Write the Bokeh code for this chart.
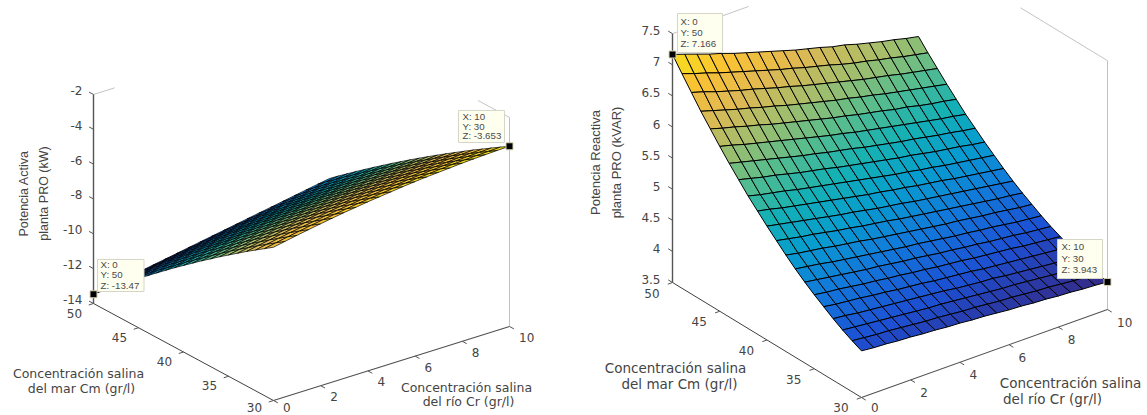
import numpy as np
from bokeh.plotting import figure
from bokeh.models import Range1d, ColumnDataSource
from bokeh.core.properties import value
from bokeh.embed import file_html
from bokeh.resources import INLINE

# ---- data ----
river_salinity = [0, .5, 1, 1.5, 2, 2.5, 3, 3.5, 4, 4.5, 5, 5.5, 6, 6.5, 7, 7.5, 8, 8.5, 9, 9.5, 10]
sea_salinity = [30, 31, 32, 33, 34, 35, 36, 37, 38, 39, 40, 41, 42, 43, 44, 45, 46, 47, 48, 49, 50]

# rows: sea_salinity, columns: river_salinity
active_power = [
 [-5.20,-5.07,-4.94,-4.82,-4.70,-4.59,-4.48,-4.39,-4.29,-4.21,-4.13,-4.05,-3.98,-3.92,-3.87,-3.82,-3.77,-3.73,-3.70,-3.67,-3.653],
 [-5.56,-5.43,-5.30,-5.18,-5.06,-4.95,-4.85,-4.75,-4.65,-4.57,-4.49,-4.41,-4.34,-4.27,-4.22,-4.16,-4.11,-4.07,-4.04,-4.01,-3.98],
 [-5.92,-5.79,-5.66,-5.54,-5.43,-5.32,-5.21,-5.11,-5.02,-4.93,-4.85,-4.77,-4.70,-4.63,-4.57,-4.51,-4.46,-4.41,-4.37,-4.34,-4.31],
 [-6.28,-6.15,-6.03,-5.91,-5.79,-5.68,-5.58,-5.48,-5.38,-5.30,-5.21,-5.13,-5.06,-4.99,-4.93,-4.87,-4.81,-4.77,-4.72,-4.68,-4.65],
 [-6.66,-6.53,-6.41,-6.29,-6.17,-6.06,-5.95,-5.85,-5.76,-5.67,-5.58,-5.50,-5.42,-5.35,-5.28,-5.22,-5.16,-5.11,-5.06,-5.02,-4.98],
 [-7.04,-6.91,-6.79,-6.67,-6.55,-6.44,-6.34,-6.24,-6.14,-6.05,-5.96,-5.88,-5.80,-5.72,-5.65,-5.59,-5.53,-5.47,-5.42,-5.37,-5.33],
 [-7.42,-7.29,-7.17,-7.05,-6.94,-6.83,-6.72,-6.62,-6.52,-6.43,-6.34,-6.26,-6.17,-6.10,-6.03,-5.96,-5.89,-5.83,-5.78,-5.73,-5.68],
 [-7.82,-7.69,-7.57,-7.45,-7.34,-7.23,-7.12,-7.02,-6.92,-6.82,-6.73,-6.64,-6.56,-6.48,-6.40,-6.33,-6.26,-6.20,-6.14,-6.08,-6.03],
 [-8.21,-8.09,-7.96,-7.85,-7.73,-7.62,-7.51,-7.41,-7.31,-7.21,-7.12,-7.03,-6.94,-6.86,-6.79,-6.71,-6.64,-6.57,-6.51,-6.45,-6.39],
 [-8.62,-8.50,-8.37,-8.26,-8.14,-8.03,-7.92,-7.82,-7.71,-7.62,-7.52,-7.43,-7.34,-7.26,-7.17,-7.09,-7.02,-6.95,-6.88,-6.81,-6.75],
 [-9.03,-8.91,-8.79,-8.67,-8.55,-8.44,-8.33,-8.23,-8.12,-8.02,-7.93,-7.83,-7.74,-7.65,-7.57,-7.49,-7.41,-7.33,-7.26,-7.19,-7.12],
 [-9.44,-9.32,-9.20,-9.08,-8.96,-8.85,-8.74,-8.64,-8.53,-8.43,-8.33,-8.23,-8.14,-8.05,-7.96,-7.88,-7.79,-7.71,-7.64,-7.56,-7.49],
 [-9.87,-9.75,-9.63,-9.51,-9.39,-9.28,-9.17,-9.06,-8.96,-8.85,-8.75,-8.65,-8.56,-8.46,-8.37,-8.28,-8.19,-8.11,-8.03,-7.95,-7.87],
 [-10.30,-10.18,-10.06,-9.94,-9.82,-9.71,-9.60,-9.49,-9.38,-9.27,-9.17,-9.07,-8.97,-8.87,-8.78,-8.68,-8.59,-8.50,-8.42,-8.33,-8.25],
 [-10.73,-10.61,-10.49,-10.37,-10.25,-10.14,-10.03,-9.92,-9.81,-9.70,-9.60,-9.49,-9.39,-9.29,-9.19,-9.10,-9.00,-8.91,-8.82,-8.73,-8.64],
 [-11.17,-11.05,-10.93,-10.81,-10.69,-10.58,-10.47,-10.35,-10.24,-10.13,-10.03,-9.92,-9.82,-9.71,-9.61,-9.51,-9.41,-9.31,-9.22,-9.12,-9.03],
 [-11.62,-11.50,-11.38,-11.26,-11.14,-11.03,-10.91,-10.80,-10.69,-10.58,-10.47,-10.36,-10.25,-10.15,-10.04,-9.93,-9.83,-9.73,-9.63,-9.53,-9.43],
 [-12.07,-11.95,-11.83,-11.71,-11.59,-11.48,-11.36,-11.25,-11.13,-11.02,-10.91,-10.79,-10.68,-10.57,-10.46,-10.36,-10.25,-10.14,-10.04,-9.93,-9.83],
 [-12.53,-12.41,-12.29,-12.17,-12.05,-11.94,-11.82,-11.70,-11.59,-11.47,-11.36,-11.24,-11.13,-11.02,-10.90,-10.79,-10.68,-10.57,-10.46,-10.35,-10.24],
 [-13.00,-12.88,-12.76,-12.64,-12.52,-12.40,-12.28,-12.16,-12.05,-11.93,-11.81,-11.69,-11.58,-11.46,-11.34,-11.23,-11.11,-10.99,-10.88,-10.76,-10.65],
 [-13.47,-13.35,-13.23,-13.11,-12.99,-12.87,-12.75,-12.63,-12.51,-12.39,-12.27,-12.15,-12.03,-11.91,-11.79,-11.67,-11.55,-11.43,-11.31,-11.19,-11.07],
]
reactive_power = [
 [4.25,4.23,4.22,4.20,4.19,4.17,4.16,4.14,4.13,4.11,4.10,4.08,4.06,4.05,4.03,4.02,4.00,3.99,3.97,3.96,3.943],
 [4.32,4.30,4.28,4.27,4.25,4.23,4.21,4.20,4.18,4.16,4.15,4.13,4.11,4.10,4.08,4.06,4.05,4.03,4.01,4.00,3.98],
 [4.40,4.38,4.36,4.34,4.32,4.30,4.28,4.26,4.25,4.23,4.21,4.19,4.17,4.15,4.14,4.12,4.10,4.08,4.06,4.05,4.03],
 [4.49,4.47,4.44,4.42,4.40,4.38,4.36,4.34,4.32,4.30,4.27,4.25,4.23,4.22,4.19,4.17,4.15,4.13,4.11,4.10,4.08],
 [4.59,4.56,4.54,4.52,4.49,4.47,4.44,4.42,4.40,4.37,4.35,4.33,4.31,4.28,4.26,4.24,4.22,4.20,4.18,4.16,4.14],
 [4.69,4.66,4.64,4.61,4.58,4.56,4.53,4.51,4.48,4.46,4.43,4.41,4.39,4.36,4.34,4.32,4.30,4.27,4.25,4.23,4.21],
 [4.80,4.77,4.74,4.71,4.68,4.65,4.63,4.60,4.57,4.55,4.52,4.49,4.47,4.44,4.42,4.39,4.37,4.35,4.32,4.30,4.28],
 [4.92,4.89,4.86,4.82,4.79,4.76,4.73,4.70,4.67,4.64,4.62,4.59,4.56,4.53,4.51,4.48,4.46,4.43,4.40,4.38,4.36],
 [5.05,5.01,4.98,4.95,4.91,4.88,4.85,4.81,4.78,4.75,4.72,4.69,4.66,4.63,4.61,4.58,4.55,4.53,4.50,4.47,4.45],
 [5.19,5.15,5.11,5.08,5.04,5.00,4.97,4.93,4.90,4.87,4.83,4.80,4.77,4.74,4.71,4.68,4.65,4.62,4.59,4.57,4.54],
 [5.33,5.29,5.25,5.21,5.17,5.13,5.09,5.06,5.02,4.98,4.95,4.92,4.88,4.85,4.82,4.79,4.76,4.73,4.70,4.67,4.64],
 [5.48,5.44,5.39,5.35,5.31,5.27,5.23,5.19,5.15,5.11,5.08,5.04,5.01,4.97,4.94,4.91,4.87,4.84,4.81,4.78,4.75],
 [5.63,5.58,5.54,5.50,5.45,5.41,5.37,5.33,5.29,5.25,5.21,5.17,5.13,5.10,5.06,5.03,4.99,4.96,4.93,4.90,4.87],
 [5.80,5.75,5.70,5.66,5.61,5.56,5.52,5.48,5.43,5.39,5.35,5.31,5.27,5.23,5.20,5.16,5.12,5.09,5.06,5.02,4.99],
 [5.97,5.92,5.87,5.82,5.77,5.72,5.67,5.63,5.58,5.54,5.50,5.45,5.41,5.37,5.33,5.30,5.26,5.22,5.19,5.15,5.12],
 [6.15,6.10,6.04,5.99,5.94,5.89,5.84,5.79,5.74,5.69,5.65,5.60,5.56,5.52,5.48,5.44,5.40,5.36,5.32,5.29,5.25],
 [6.34,6.28,6.23,6.17,6.12,6.06,6.01,5.96,5.91,5.86,5.81,5.77,5.72,5.68,5.64,5.59,5.56,5.51,5.47,5.44,5.40],
 [6.53,6.47,6.41,6.35,6.30,6.24,6.19,6.13,6.08,6.03,5.98,5.93,5.89,5.84,5.80,5.75,5.71,5.67,5.63,5.59,5.55],
 [6.74,6.68,6.61,6.55,6.49,6.44,6.38,6.32,6.27,6.21,6.16,6.11,6.06,6.01,5.96,5.92,5.88,5.83,5.79,5.75,5.71],
 [6.95,6.88,6.82,6.75,6.69,6.63,6.57,6.51,6.45,6.40,6.34,6.29,6.24,6.18,6.13,6.09,6.04,6.00,5.95,5.91,5.87],
 [7.166,7.10,7.03,6.96,6.90,6.83,6.77,6.71,6.65,6.59,6.53,6.48,6.43,6.37,6.33,6.27,6.22,6.17,6.13,6.08,6.04],
]
x_ticks = [0, 2, 4, 6, 8, 10]
y_ticks = [30, 35, 40, 45, 50]
z_ticks_active = [-14, -12, -10, -8, -6, -4, -2]
z_ticks_reactive = [3.5, 4, 4.5, 5, 5.5, 6, 6.5, 7, 7.5]
z_tick_labels_reactive = ["3.5", "4", "4.5", "5", "5.5", "6", "6.5", "7", "7.5"]
cursor_active = [(0, 50, "0", "50", "-13.47", -13.47), (10, 30, "10", "30", "-3.653", -3.653)]
cursor_reactive = [(0, 50, "0", "50", "7.166", 7.166), (10, 30, "10", "30", "3.943", 3.943)]

# ---- page coordinates ----
W, H = 1147, 415
p = figure(width=W, height=H, x_range=Range1d(0, W), y_range=Range1d(H, 0),
           x_axis_type=None, y_axis_type=None, toolbar_location=None,
           output_backend="svg", min_border=0, outline_line_color=None)

ANCHORS = np.array([(53,42,135),(28,80,212),(18,120,218),(7,156,207),(21,177,180),
                    (89,189,140),(165,190,107),(225,185,82),(250,195,50),(245,228,25)], float)

def parula(t):
    t = np.clip(t, 0, 1) * (len(ANCHORS) - 1)
    i = min(int(t), len(ANCHORS) - 2)
    c = ANCHORS[i] + (ANCHORS[i + 1] - ANCHORS[i]) * (t - i)
    return "#%02x%02x%02x" % tuple(int(round(v)) for v in c)

TICK = "#555555"
SANS = value("DejaVu Sans")
ARIAL = value("Liberation Sans")
LOWEST_LABEL = 407.0


def panel(Z, zmin, zmax, origin, ex, ey, ez, zticks, zlabels, cursors, boxes, ylbl, xlbl,
          lbl_size, mesh_w, back_x, back_y, off_y, off_x, zlab_off, ztitle_size, ztitles):
    Z = np.array(Z, float)
    X = np.array(river_salinity, float)
    Y = np.array(sea_salinity, float)

    def proj(x, y, z):
        px = origin[0] + x * ex[0] + (y - 30) * ey[0]
        py = origin[1] + x * ex[1] + (y - 30) * ey[1] + (z - zmin) * ez
        return px, py

    # back box lines
    xa, ya = proj(0, 50, zmax); xb, yb = proj(back_x, 50, zmax)
    p.line([xa, xb], [ya, yb], line_color="#c4c4c4", line_width=1)
    xa, ya = proj(10, 30, zmax); xb, yb = proj(10, back_y, zmax)
    p.line([xa, xb], [ya, yb], line_color="#c4c4c4", line_width=1)
    xa, ya = proj(10, 30, zmin); xb, yb = proj(10, 30, zmax)
    p.line([xa, xb], [ya, yb], line_color="#c0c0c0", line_width=1)

    # surface, far rows first
    xs, ys, fill = [], [], []
    for j in range(len(Y) - 2, -1, -1):
        for i in range(len(X) - 1):
            cx, cy = [], []
            for (a, b) in ((i, j), (i + 1, j), (i + 1, j + 1), (i, j + 1)):
                qx, qy = proj(X[a], Y[b], Z[b, a])
                cx.append(float(qx)); cy.append(float(qy))
            xs.append(cx); ys.append(cy)
            m = (Z[j, i] + Z[j, i + 1] + Z[j + 1, i] + Z[j + 1, i + 1]) / 4
            fill.append(parula((m - Z.min()) / (Z.max() - Z.min())))
    p.patches("xs", "ys", source=ColumnDataSource(dict(xs=xs, ys=ys, c=fill)),
              fill_color="c", line_color="#000000", line_width=mesh_w)

    # axes
    for (a, b, col, w) in (((0, 50, zmin), (0, 50, zmax), "#555555", 1.4),
                           ((0, 50, zmin), (0, 30, zmin), "#404040", 1.0),
                           ((0, 30, zmin), (10, 30, zmin), "#505050", 1.1)):
        ax, ay = proj(*a); bx, by = proj(*b)
        p.line([ax, bx], [ay, by], line_color=col, line_width=w)

    nx = np.hypot(*ex); ny = np.hypot(*ey)
    tl = 5.0
    for z, lab in zip(zticks, zlabels):
        ax, ay = proj(0, 50, z)
        p.line([ax, ax + ey[0] / ny * tl], [ay, ay + ey[1] / ny * tl], line_color=TICK, line_width=1)
        p.text([ax + zlab_off[0]], [ay + zlab_off[1]], text=[lab], text_font=SANS, text_font_size="12px",
               text_color="#444444", text_align="right", text_baseline="middle")
    for y in y_ticks:
        ax, ay = proj(0, y, zmin)
        p.line([ax, ax - ex[0] / nx * tl], [ay, ay - ex[1] / nx * tl], line_color=TICK, line_width=1)
        p.text([ax + off_y[0]], [min(ay + off_y[1], LOWEST_LABEL)], text=[str(y)], text_font=SANS,
               text_font_size="12px", text_color="#444444", text_align="center", text_baseline="middle")
    for x in x_ticks:
        ax, ay = proj(x, 30, zmin)
        p.line([ax, ax - ey[0] / ny * tl], [ay, ay - ey[1] / ny * tl], line_color=TICK, line_width=1)
        p.text([ax + off_x[0]], [min(ay + off_x[1], LOWEST_LABEL)], text=[str(x)], text_font=SANS,
               text_font_size="12px", text_color="#444444", text_align="left", text_baseline="middle")

    # titles
    for (tx, ty, t) in ztitles:
        p.text([tx], [ty], text=[t], angle=np.pi / 2, text_font=ARIAL, text_font_size=ztitle_size,
               text_color="#444444", text_align="center", text_baseline="middle")
    for (tx, ty, t) in ylbl + xlbl:
        p.text([tx], [ty], text=[t], text_font=SANS, text_font_size=lbl_size,
               text_color="#444444", text_align="center", text_baseline="middle")

    # data tips
    for (cur, box) in zip(cursors, boxes):
        cx, cy, sx, sy, sz, zv = cur
        l, r, t, b, tx, rows = box
        p.quad(left=[l], right=[r], top=[t], bottom=[b], fill_color="#fffff0",
               line_color="#d6d6c8", line_width=1)
        for ry, s in zip(rows, ("X: " + sx, "Y: " + sy, "Z: " + sz)):
            p.text([tx], [ry], text=[s], text_font=ARIAL, text_font_size="9.7px", text_color="#4a4a4a",
                   text_align="left", text_baseline="middle")
        mx, my = proj(cx, cy, zv)
        p.scatter([mx], [my], marker="square", size=7, fill_color="#000000",
                  line_color="#d8d4b0", line_width=1)


panel(active_power, -14, -2, (273, 400), (23.6, -7.4), (-9.0, -4.85), -17.42,
      z_ticks_active, [str(v) for v in z_ticks_active], cursor_active,
      [(97, 143.5, 259, 291, 100, (264, 274, 284.5)), (458, 504, 110, 142, 462, (116, 125.5, 135))],
      [(78, 373, "Concentración salina"), (81, 388, "del mar Cm (gr/l)")],
      [(466, 387, "Concentración salina"), (468, 401, "del río Cr (gr/l)")],
      "12.5px", 0.7, 0.9, 33.5, (-19, 9.6), (9.5, 11), (-11, -4), "12.5px",
      [(23, 193, "Potencia Activa"), (43, 193, "planta PRO (kW)")])

panel(reactive_power, 3.5, 7.5, (861, 397), (24.6, -8.8), (-9.45, -5.75), -62.2,
      z_ticks_reactive, z_tick_labels_reactive, cursor_reactive,
      [(677, 722, 13, 52, 680, (21, 32, 43)), (1057, 1102, 239, 278, 1061, (246, 258, 269))],
      [(675, 367, "Concentración salina"), (679, 383, "del mar Cm (gr/l)")],
      [(1070, 382, "Concentración salina"), (1052, 398, "del río Cr (gr/l)")],
      "13.5px", 1.0, 3.1, 39.2, (-20.5, 10.7), (9.5, 12.5), (-12, -3), "13px",
      [(595, 162, "Potencia Reactiva"), (616, 162, "planta PRO (kVAR)")])

open("out.html", "w").write(file_html(p, INLINE))
